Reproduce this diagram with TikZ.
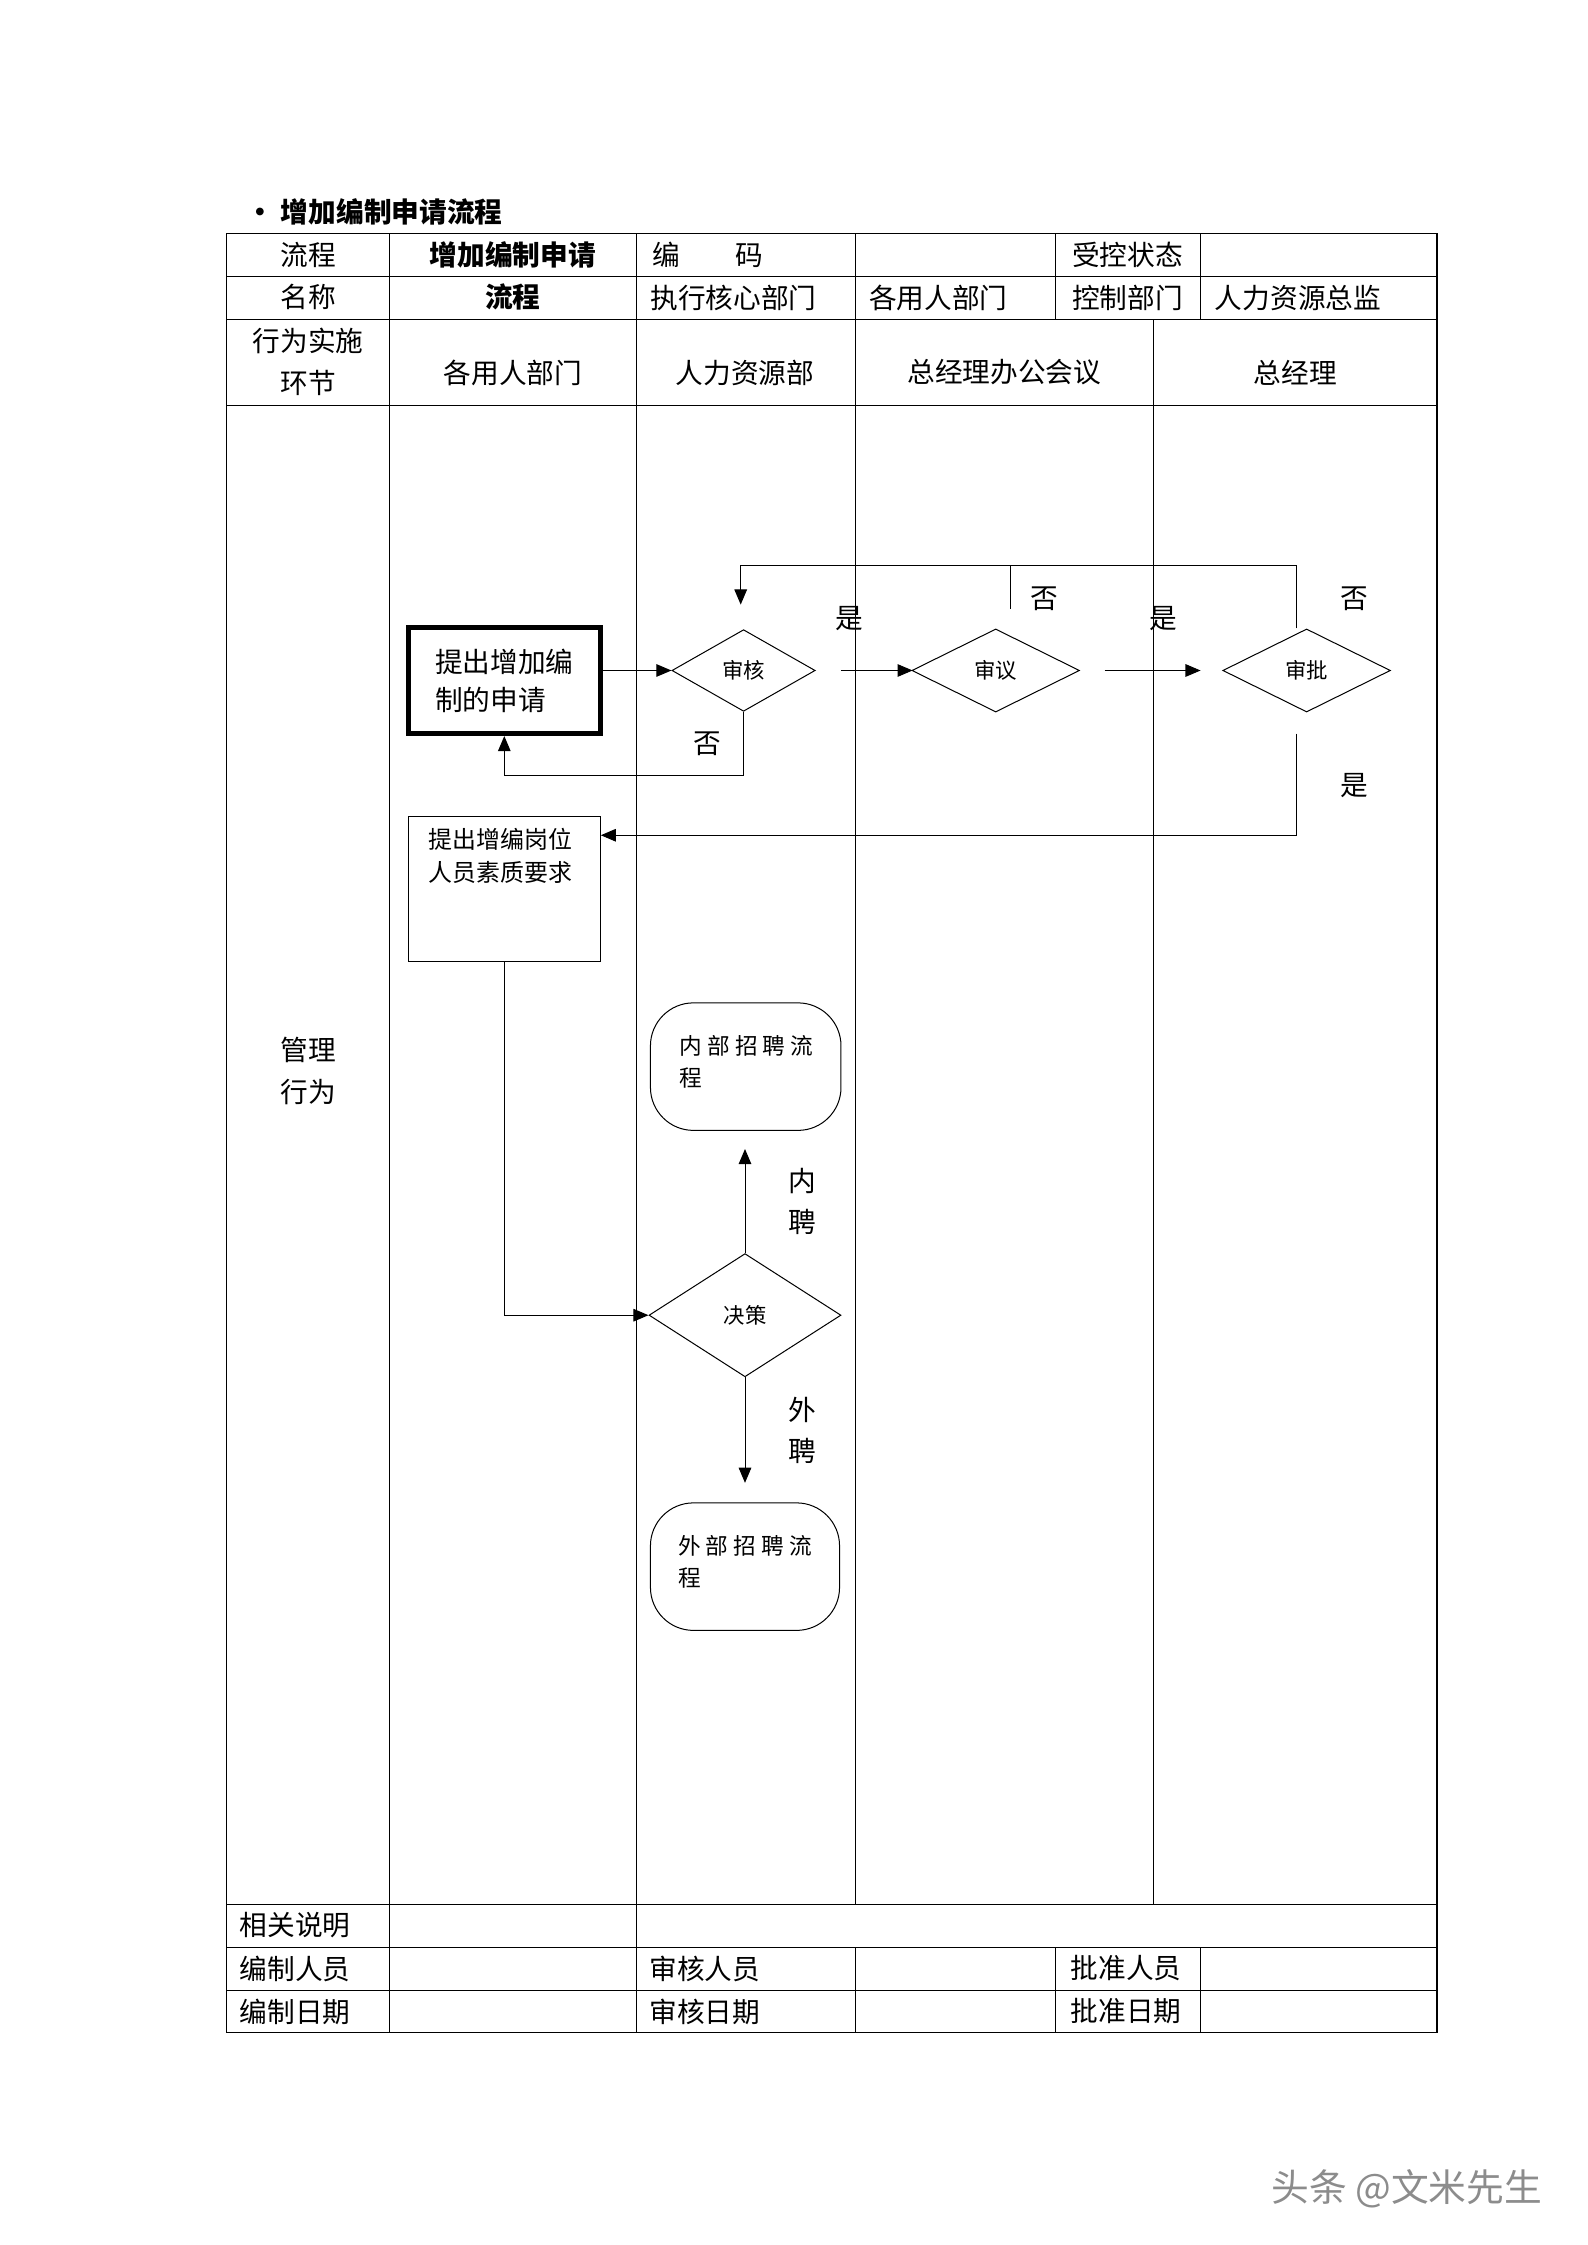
\documentclass[tikz,border=0pt]{standalone}
\usepackage{fontspec}
\setmainfont{Noto Sans CJK SC}
\usetikzlibrary{shapes.geometric,arrows.meta}
\begin{document}
\begin{tikzpicture}[x=0.02cm,y=-0.02cm,
  tl/.style={font=\fontsize{11}{13}\selectfont,inner sep=0},
  dia/.style={draw,diamond,aspect=2,inner sep=0,font=\fontsize{8.5}{10}\selectfont},
  arr/.style={-{Triangle[length=6pt,width=5pt]}},
  rbox/.style={draw,rounded corners=0.6cm,font=\fontsize{9}{12}\selectfont,align=left,inner sep=0}]
\useasboundingbox (0,0) rectangle (1108,1567);
\node[tl,font=\fontsize{11}{13}\selectfont\bfseries,anchor=west] (title) at (172,148) {• 增加编制申请流程};
% table
\draw (158,163) rectangle (1003,1419);
\foreach \y in {193,223,283,1329,1359,1389} \draw (158,\y) -- (1003,\y);
\draw (272,163) -- (272,1419);
\foreach \x in {444,597,737,838} {\draw (\x,163)--(\x,223); \draw (\x,1359)--(\x,1419);}
\draw (444,223)--(444,1329); \draw (597,223)--(597,1329); \draw (805,223)--(805,1329);
\draw (444,1329)--(444,1359);
% header texts
\node[tl] (t1) at (215,178) {流程}; \node[tl] (t2) at (215,207) {名称};
\node[tl,font=\fontsize{11}{13}\selectfont\bfseries] (t3) at (358,178) {增加编制申请};
\node[tl,font=\fontsize{11}{13}\selectfont\bfseries] (t4) at (358,207) {流程};
\node[tl,anchor=west] (t5) at (455,178) {编\hspace{2em}码};
\node[tl] (t6) at (787,178) {受控状态};
\node[tl] (t7) at (512,208) {执行核心部门};
\node[tl] (t8) at (655,208) {各用人部门};
\node[tl] (t9) at (787,208) {控制部门};
\node[tl] (t10) at (906,208) {人力资源总监};
\node[tl] (t11) at (215,238) {行为实施}; \node[tl] (t12) at (215,267) {环节};
\node[tl] (t13) at (358,260) {各用人部门};
\node[tl] (t14) at (520,260) {人力资源部};
\node[tl] (t15) at (701,260) {总经理办公会议};
\node[tl] (t16) at (904,260) {总经理};
\node[tl] (t17) at (215,733) {管理}; \node[tl] (t18) at (215,762) {行为};
\node[tl] (b1) at (206,1344) {相关说明};
\node[tl] (b2) at (206,1374) {编制人员};
\node[tl] (b3) at (492,1374) {审核人员};
\node[tl] (b4) at (786,1374) {批准人员};
\node[tl] (b5) at (206,1404) {编制日期};
\node[tl] (b6) at (492,1404) {审核日期};
\node[tl] (b7) at (786,1404) {批准日期};
% flow
\node[draw,line width=2pt,minimum width=134*0.02cm,minimum height=74*0.02cm,align=left,font=\fontsize{11}{15}\selectfont,inner sep=0] (req) at (352,475) {提出增加编\\制的申请};
\node[dia,minimum width=100*0.02cm,minimum height=57*0.02cm] (sh) at (519,468) {审核};
\node[dia,minimum width=117*0.02cm,minimum height=58*0.02cm] (sy) at (695,468) {审议};
\node[dia,minimum width=117*0.02cm,minimum height=58*0.02cm] (sp) at (912,468) {审批};
\coordinate (a1) at (587,468); \coordinate (a2) at (637,468);
\coordinate (a3) at (771,468); \coordinate (a4) at (838,468);
\draw[arr] (req.east|-sh) -- (sh.west);
\draw[arr] (a1) -- (a2); \draw[arr] (a3) -- (a4);
\node[tl] (y1) at (593,432) {是}; \node[tl] (y2) at (812,432) {是};
\draw[arr] (sh.south) -- (519,541) -- (352,541) -- (req.south);
\node[tl] (n1) at (494,519) {否};
\coordinate (c1) at (705,425);
\draw[arr] (sp.north -| 905,0) |- (905,395) -- (517,395) -- (517,422);
\draw (c1) -- (705,395);
\node[tl] (n2) at (729,418) {否}; \node[tl] (n3) at (945,418) {否};
\node[draw,minimum width=134*0.02cm,minimum height=101*0.02cm,inner sep=0] (req2) at (352,620.5) {};
\node[anchor=north west,align=left,font=\fontsize{9.5}{13}\selectfont,inner sep=0] (req2t) at (299,578) {提出增编岗位\\人员素质要求};
\draw[arr] (905,512) -- (905,583) -- (req2.east|-0,583);
\node[tl] (y3) at (945,548) {是};
\node[dia,minimum width=134*0.02cm,minimum height=86*0.02cm] (jc) at (520,918) {决策};
\draw[arr] (req2.south) |- (jc.west);
\node[rbox,minimum width=133*0.02cm,minimum height=89*0.02cm] (nb) at (520.5,744.5) {};
\node[anchor=north west,align=left,font=\fontsize{9}{13}\selectfont,inner sep=0] (nbt) at (474,722) {内 部 招 聘 流\\程};
\node[rbox,minimum width=132*0.02cm,minimum height=89*0.02cm] (wb) at (520,1093.5) {};
\node[anchor=north west,align=left,font=\fontsize{9}{13}\selectfont,inner sep=0] (wbt) at (473,1071) {外 部 招 聘 流\\程};
\coordinate (u1) at (520,802); \coordinate (d1) at (520,1035);
\draw[arr] (jc.north) -- (u1);
\draw[arr] (jc.south) -- (d1);
\node[tl] (l1) at (560,824) {内}; \node[tl] (l2) at (560,853) {聘};
\node[tl] (l3) at (560,984) {外}; \node[tl] (l4) at (560,1013) {聘};
\node[font=\fontsize{15}{17}\selectfont,text=gray!90] (wm) at (982,1528) {头条 @文米先生};
\end{tikzpicture}
\end{document}
